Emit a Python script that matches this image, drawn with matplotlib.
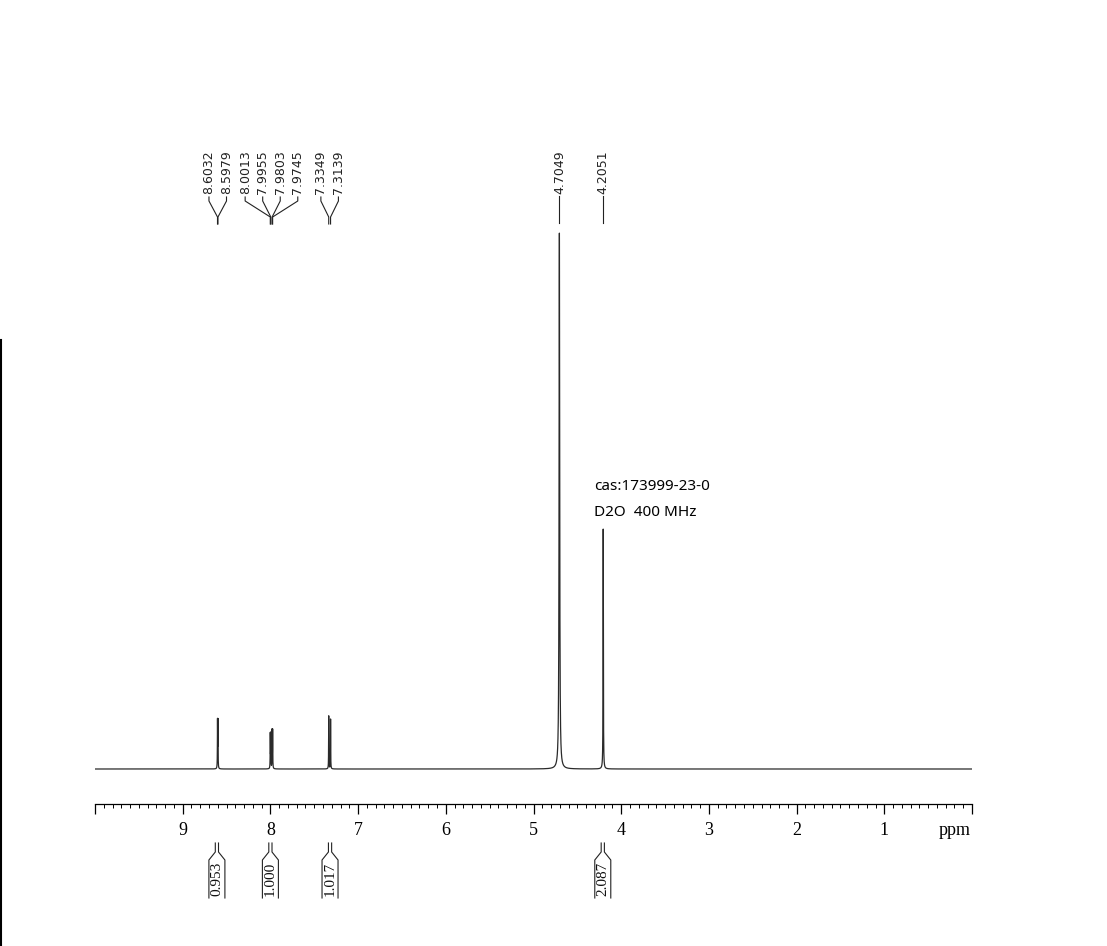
import numpy as np
import matplotlib.pyplot as plt
from matplotlib.lines import Line2D
from matplotlib.ticker import MultipleLocator

# peak list (ppm), intensities relative to the 4.7049 line
shifts = [8.6032, 8.5979, 8.0013, 7.9955, 7.9803, 7.9745, 7.3349, 7.3139, 4.7049, 4.2051]
heights = [0.088, 0.088, 0.064, 0.064, 0.070, 0.070, 0.099, 0.093, 1.0, 0.448]
widths = [0.0015, 0.0015, 0.0015, 0.0015, 0.0015, 0.0015, 0.0015, 0.0015, 0.004, 0.002]
# which peaks share one label fan
label_groups = [[0, 1], [2, 3, 4, 5], [6, 7], [8], [9]]

# integrals under the axis
int_values = ['0.953', '1.000', '1.017', '2.087']
int_centers = [8.61, 8.00, 7.32, 4.21]

tick_vals = list(range(0, 11))
tick_text = ['', '1', '2', '3', '4', '5', '6', '7', '8', '9', '']

W, H = 1107, 946
fig = plt.figure(figsize=(W / 100, H / 100), dpi=100)
fig.patch.set_facecolor('white')

# pixel layout
x0, x1 = 95, 972
base_px, top_px, axis_px = 769, 233, 804
scale = base_px - top_px

ax = fig.add_axes([x0 / W, 0, (x1 - x0) / W, 1])
ax.set_xlim(10, 0)
ax.set_ylim((base_px - H) / scale, base_px / scale)

ppm = np.linspace(10, 0, 60001)
spec = np.zeros_like(ppm)
for s, h, w in zip(shifts, heights, widths):
    spec += h * w ** 2 / ((ppm - s) ** 2 + w ** 2)
ax.plot(ppm, spec, color='#2a2a2a', lw=0.9)

for side in ['left', 'right', 'top']:
    ax.spines[side].set_visible(False)
ax.spines['bottom'].set_position(('data', (base_px - axis_px) / scale))
ax.spines['bottom'].set_linewidth(0.9)
ax.set_yticks([])
ax.set_xticks(tick_vals)
ax.set_xticklabels(tick_text, fontfamily='Liberation Serif', fontsize=13)
ax.xaxis.set_minor_locator(MultipleLocator(0.1))
ax.tick_params(axis='x', which='major', direction='out', length=7.2, width=0.9, pad=6)
ax.tick_params(axis='x', which='minor', direction='out', length=3, width=0.7)
ax.patch.set_visible(False)

# overlay: x in ppm, y in pixels from top
lay = fig.add_axes([x0 / W, 0, (x1 - x0) / W, 1])
lay.set_xlim(10, 0)
lay.set_ylim(H, 0)
lay.axis('off')
lay.patch.set_visible(False)

spread = 0.2
for grp in label_groups:
    n = len(grp)
    center = np.mean([shifts[i] for i in grp])
    for k, i in enumerate(grp):
        lx = center + ((n - 1) / 2 - k) * spread
        lay.text(lx, 194, f'{shifts[i]:.4f}', rotation=90, ha='center', va='bottom',
                 fontsize=9, family='DejaVu Sans', color='#222222')
        if n == 1:
            lay.plot([lx, lx], [196, 223], color='#222222', lw=0.8)
        else:
            lay.plot([lx, lx, shifts[i], shifts[i]], [197, 201, 217, 224],
                     color='#222222', lw=0.8)

sd = 1.6 / 87.7
bd = 8.0 / 87.7
for val, cx in zip(int_values, int_centers):
    for sgn in (1, -1):
        lay.plot([cx + sgn * sd, cx + sgn * sd, cx + sgn * bd, cx + sgn * bd],
                 [843, 852, 860, 898], color='#222222', lw=0.8)
    lay.text(cx, 879, val, rotation=90, ha='center', va='center',
             fontsize=11, family='Liberation Serif', color='#111111')

fig.text(955 / W, 1 - 830 / H, 'ppm', ha='center', va='center',
         family='Liberation Serif', fontsize=13)
fig.text(594 / W, 1 - 487 / H, 'cas:173999-23-0', ha='left', va='center',
         family='Noto Sans', fontsize=11)
fig.text(594 / W, 1 - 512 / H, 'D2O  400 MHz', ha='left', va='center',
         family='Noto Sans', fontsize=11)

# dark edge of the scanned page
fig.add_artist(Line2D([0.001, 0.001], [0, 1 - 340 / H], transform=fig.transFigure,
                      color='black', lw=1.5))

fig.savefig('out.png', dpi=100)
